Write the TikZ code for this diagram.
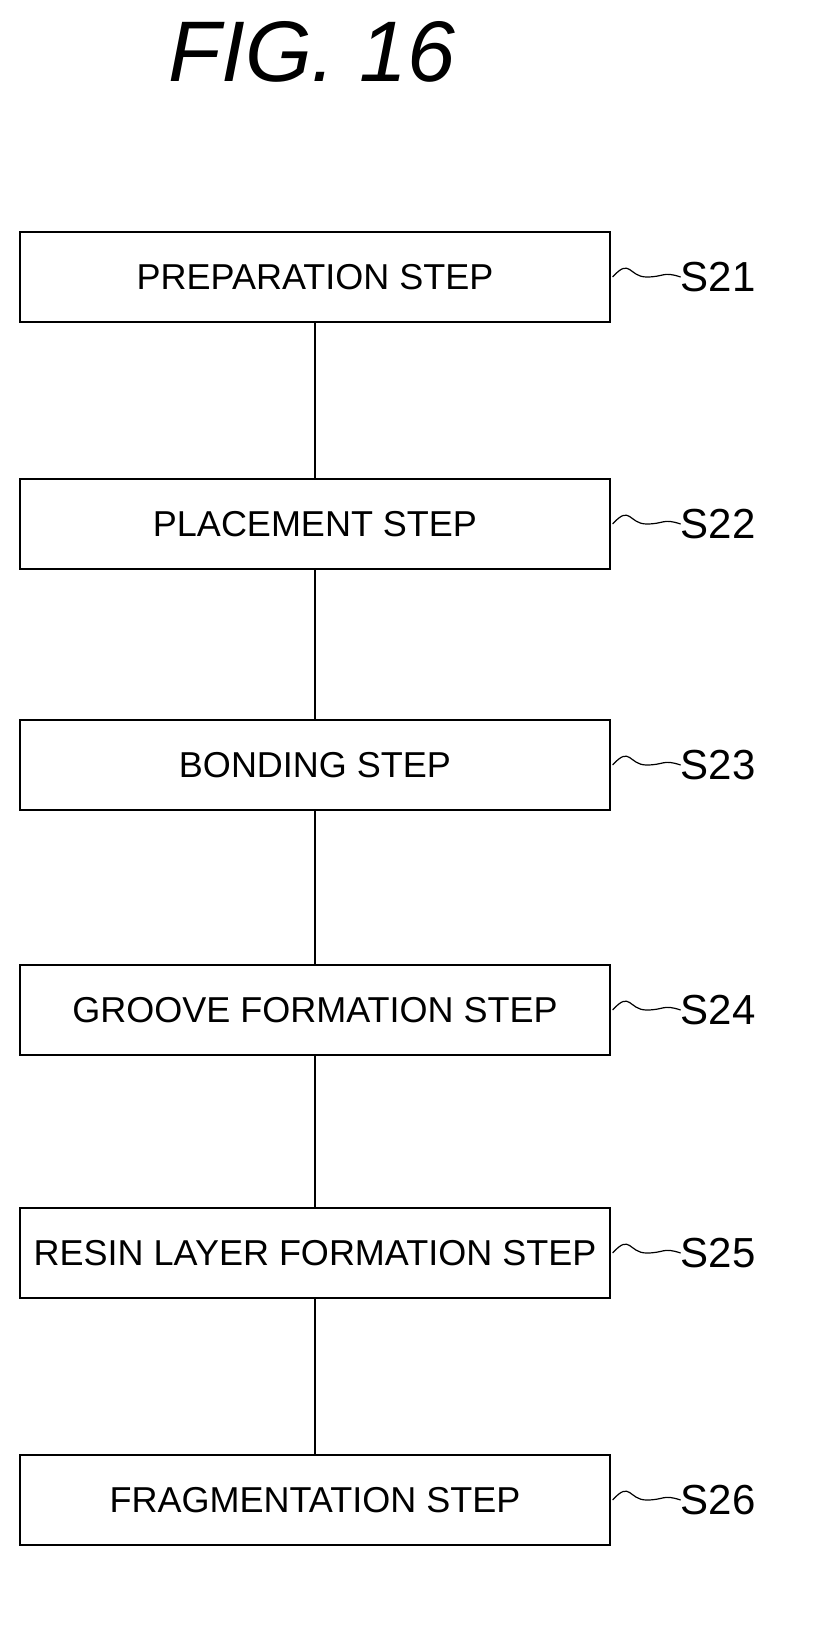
\documentclass[tikz,border=0pt]{standalone}
\usepackage{fontspec}
\setmainfont{Liberation Sans}
\begin{document}
\begin{tikzpicture}[x=1pt,y=-1pt,
  stepbox/.style={draw, line width=1.2pt, minimum width=590pt, minimum height=90pt, inner sep=0pt, font=\fontsize{36}{40}\selectfont},
  lbl/.style={anchor=west, inner sep=0pt, font=\fontsize{42}{46}\selectfont},
  conn/.style={line width=1.2pt}]
\useasboundingbox (0,0) rectangle (828,1647);
\node[font=\fontsize{86}{90}\selectfont\itshape] (title) at (312,52) {FIG. 16};
\node[stepbox] (s1) at (315,277) {PREPARATION STEP};
\node[stepbox] (s2) at (315,524) {PLACEMENT STEP};
\node[stepbox] (s3) at (315,765) {BONDING STEP};
\node[stepbox] (s4) at (315,1010) {GROOVE FORMATION STEP};
\node[stepbox] (s5) at (315,1253) {RESIN LAYER FORMATION STEP};
\node[stepbox] (s6) at (315,1500) {FRAGMENTATION STEP};
\foreach \a/\b in {s1/s2,s2/s3,s3/s4,s4/s5,s5/s6} \draw[conn] (\a) -- (\b);
\foreach \n/\t in {s1/S21,s2/S22,s3/S23,s4/S24,s5/S25,s6/S26}{
  \node[lbl] (l\n) at ([xshift=70pt]\n.east) {\t};
  \draw[conn] ([xshift=2pt]\n.east) .. controls +(18,-20) and +(-18,0) .. ([xshift=36pt]\n.east)
    .. controls +(18,0) and +(-18,-6) .. (l\n.west);
}
\end{tikzpicture}
\end{document}
